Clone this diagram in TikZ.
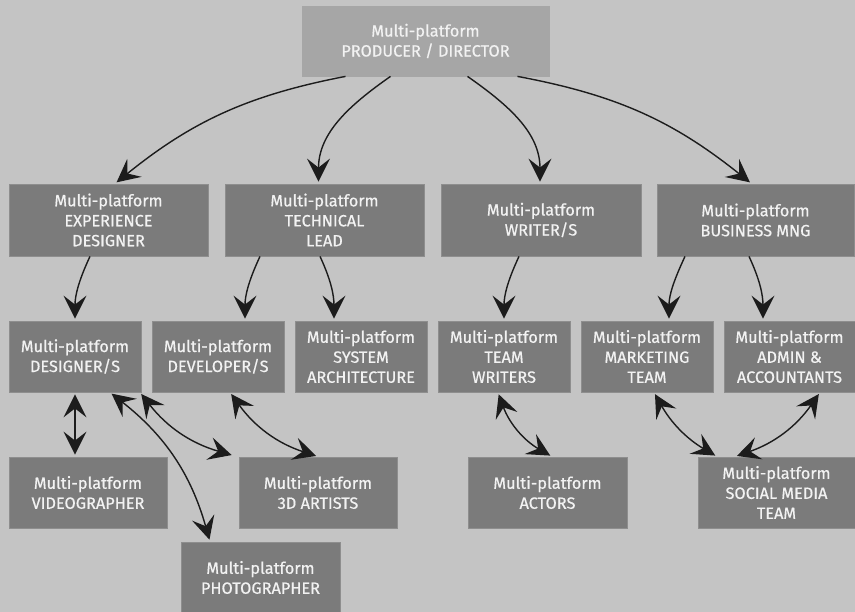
\documentclass[tikz,border=0pt]{standalone}
\usepackage{fontspec}
\setmainfont{Fira Sans}
\newfontfamily\boxfont{Fira Sans}[FakeBold=0.6]
\usetikzlibrary{arrows.meta,calc}
\definecolor{bg}{HTML}{C4C4C4}
\definecolor{topfill}{HTML}{A6A6A6}
\definecolor{boxfill}{HTML}{7B7B7B}
\definecolor{boxedge}{HTML}{8E8E8E}
\definecolor{arrowcol}{HTML}{1C1C1C}
\definecolor{txt}{HTML}{F2F2F2}
\begin{document}
\begin{tikzpicture}[x=1pt,y=-1pt,
  box/.style={draw=boxedge, line width=0.8pt, fill=boxfill, text=txt, align=center, inner sep=0pt,
    font=\boxfont\fontsize{16.3}{20}\selectfont},
  topbox/.style={box, fill=topfill, draw=topfill},
  conn/.style={draw=arrowcol, line width=1.4pt, -{Stealth[length=23pt,width=23pt,inset=9pt]}, shorten >=2pt},
  dconn/.style={draw=arrowcol, line width=1.4pt, {Stealth[length=23pt,width=23pt,inset=9pt]}-{Stealth[length=23pt,width=23pt,inset=9pt]}, shorten >=2pt, shorten <=2pt}
]
\fill[bg] (0,0) rectangle (855,612);
\useasboundingbox (0,0) rectangle (855,612);

% row 0
\node[topbox, minimum width=247pt, minimum height=70pt] (top) at (425.5,41) {Multi-platform\\PRODUCER / DIRECTOR};
% row 1
\node[box, minimum width=199pt, minimum height=72pt] (exp) at (108.5,220) {Multi-platform\\EXPERIENCE\\DESIGNER};
\node[box, minimum width=199pt, minimum height=72pt] (tech) at (324.5,220) {Multi-platform\\TECHNICAL\\LEAD};
\node[box, minimum width=200pt, minimum height=72pt] (writer) at (541,220) {Multi-platform\\WRITER/S};
\node[box, minimum width=197pt, minimum height=72pt] (bus) at (755.5,220) {Multi-platform\\BUSINESS MNG};
% row 2
\node[box, minimum width=132pt, minimum height=71pt] (des) at (75,356.5) {Multi-platform\\DESIGNER/S};
\node[box, minimum width=132pt, minimum height=71pt] (dev) at (218,356.5) {Multi-platform\\DEVELOPER/S};
\node[box, minimum width=132pt, minimum height=71pt] (sys) at (361,356.5) {Multi-platform\\SYSTEM\\ARCHITECTURE};
\node[box, minimum width=132pt, minimum height=71pt] (tw) at (504,356.5) {Multi-platform\\TEAM\\WRITERS};
\node[box, minimum width=132pt, minimum height=71pt] (mkt) at (647,356.5) {Multi-platform\\MARKETING\\TEAM};
\node[box, minimum width=131pt, minimum height=71pt] (adm) at (789.5,356.5) {Multi-platform\\ADMIN \&\\ACCOUNTANTS};
% row 3
\node[box, minimum width=158pt, minimum height=71pt] (vid) at (88,492.5) {Multi-platform\\VIDEOGRAPHER};
\node[box, minimum width=158pt, minimum height=71pt] (art) at (318,492.5) {Multi-platform\\3D ARTISTS};
\node[box, minimum width=159pt, minimum height=71pt] (act) at (547.5,492.5) {Multi-platform\\ACTORS};
\node[box, minimum width=157pt, minimum height=71pt] (soc) at (776.5,492.5) {Multi-platform\\SOCIAL MEDIA\\TEAM};
% row 4
\node[box, minimum width=159pt, minimum height=71pt] (photo) at (260.5,577.5) {Multi-platform\\PHOTOGRAPHER};

% top arrows
\draw[conn] ([xshift=-80pt]top.south) to[bend right=14] ([xshift=6.5pt]exp.north);
\draw[conn] ([xshift=-35pt]top.south) to[out=215,in=90] ([xshift=-6pt]tech.north);
\draw[conn] ([xshift=42pt]top.south) to[out=-35,in=90] ([xshift=-1pt]writer.north);
\draw[conn] ([xshift=92pt]top.south) to[bend left=14] ([xshift=-4pt]bus.north);

% level 2 arrows
\draw[conn] ([xshift=-18.5pt]exp.south) to[out=-115,in=90] (des.north);
\draw[conn] ([xshift=-64.5pt]tech.south) to[out=-115,in=90] ([xshift=27pt]dev.north);
\draw[conn] ([xshift=-4.5pt]tech.south) to[out=-65,in=90] ([xshift=-27pt]sys.north);
\draw[conn] ([xshift=-22pt]writer.south) to[out=-115,in=90] (tw.north);
\draw[conn] ([xshift=-70.5pt]bus.south) to[out=-115,in=90] ([xshift=22pt]mkt.north);
\draw[conn] ([xshift=-6.5pt]bus.south) to[out=-65,in=90] ([xshift=-26.5pt]adm.north);

% level 3 double arrows
\draw[dconn] (des.south) -- ([xshift=-13pt]vid.north);
\draw[dconn] ([xshift=35pt]des.south) to[bend left=18] ([xshift=-50.5pt]photo.north);
\draw[dconn] ([xshift=65pt]des.south) to[bend right=18] ([xshift=-5pt,yshift=1pt]art.north west);
\draw[dconn] ([xshift=12pt]dev.south) to[bend right=18] (art.north);
\draw[dconn] ([xshift=-6pt]tw.south) to[bend right=20] ([xshift=4.5pt]act.north);
\draw[dconn] ([xshift=7pt]mkt.south) to[bend right=15] ([xshift=-59.5pt]soc.north);
\draw[dconn] ([xshift=30.5pt]adm.south) to[bend left=18] ([xshift=-41.5pt]soc.north);
\end{tikzpicture}
\end{document}
